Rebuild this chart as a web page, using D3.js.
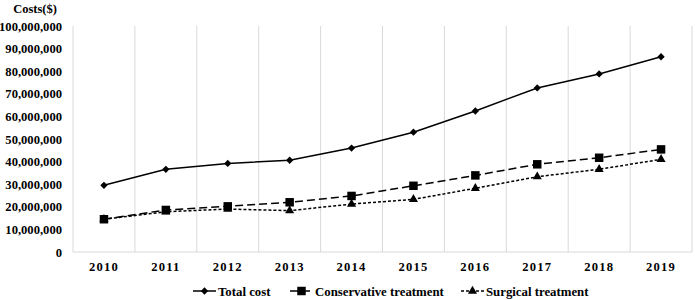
<!DOCTYPE html>
<html>
<head>
<meta charset="utf-8">
<script src="https://cdn.jsdelivr.net/npm/d3@7"></script>
<style>
  body { margin: 0; background: #fff; }
  text { font-family: "Liberation Serif", "Times New Roman", serif; font-weight: bold; fill: #000; }
</style>
</head>
<body>
<main></main>
<script>
const years = ["2010", "2011", "2012", "2013", "2014", "2015", "2016", "2017", "2018", "2019"];
const totalCost = [29.5e6, 36.6e6, 39.2e6, 40.6e6, 46.0e6, 53.0e6, 62.4e6, 72.6e6, 78.8e6, 86.4e6];
const conservative = [14.5e6, 18.6e6, 20.2e6, 22.0e6, 24.8e6, 29.3e6, 33.9e6, 38.8e6, 41.7e6, 45.4e6];
const surgical = [14.5e6, 17.8e6, 19.0e6, 18.3e6, 21.2e6, 23.3e6, 28.2e6, 33.3e6, 36.6e6, 41.0e6];
const yTicks = [0, 1e7, 2e7, 3e7, 4e7, 5e7, 6e7, 7e7, 8e7, 9e7, 1e8];

const svgWidth = 695,
  svgHeight = 300,
  plotLeft = 73,
  plotRight = 692,
  plotTop = 26,
  plotBottom = 252;

const xScale = d3.scaleBand().domain(years).range([plotLeft, plotRight]),
  yScale = d3.scaleLinear().domain([0, 1e8]).range([plotBottom, plotTop]);

const svg = d3.select("main").append("svg")
  .attr("width", svgWidth)
  .attr("height", svgHeight);

// vertical gridlines between categories
const gridX = years.map(d => xScale(d)).concat([plotRight]);
svg.append("g").selectAll("line").data(gridX).join("line")
  .attr("x1", d => d).attr("x2", d => d)
  .attr("y1", plotTop).attr("y2", plotBottom)
  .attr("stroke", "#d9d9d9").attr("stroke-width", 1);

svg.append("line")
  .attr("x1", plotLeft).attr("x2", plotRight)
  .attr("y1", plotBottom).attr("y2", plotBottom)
  .attr("stroke", "#d9d9d9");

// y axis labels
const yAxis = d3.axisLeft(yScale).tickValues(yTicks).tickSize(0).tickPadding(11)
  .tickFormat(d3.format(",d"));
svg.append("g").attr("transform", `translate(${plotLeft},0)`).call(yAxis)
  .call(g => g.select(".domain").remove())
  .selectAll("text").style("font-size", "12.6px")
  .style("font-family", "Liberation Serif, serif").style("font-weight", "bold");

// x axis labels
const xAxis = d3.axisBottom(xScale).tickSize(0).tickPadding(10);
svg.append("g").attr("transform", `translate(0,${plotBottom})`).call(xAxis)
  .call(g => g.select(".domain").remove())
  .selectAll("text").style("font-size", "12.6px").style("letter-spacing", "1.2px")
  .style("font-family", "Liberation Serif, serif").style("font-weight", "bold");

svg.append("text").attr("x", 35).attr("y", 13)
  .attr("text-anchor", "middle").style("font-size", "12.5px").text("Costs($)");

const series = [
  { name: "Total cost", values: totalCost, dash: null, symbol: d3.symbolDiamond2, size: 34 },
  { name: "Conservative treatment", values: conservative, dash: "8,4", symbol: d3.symbolSquare, size: 72 },
  { name: "Surgical treatment", values: surgical, dash: "3,2", symbol: d3.symbolTriangle, size: 36 }
];

const line = d3.line()
  .x((d, i) => xScale(years[i]) + xScale.bandwidth() / 2)
  .y(d => yScale(d));

series.forEach(s => {
  const g = svg.append("g");
  g.append("path").datum(s.values)
    .attr("d", line)
    .attr("fill", "none").attr("stroke", "#000").attr("stroke-width", 1.5)
    .attr("stroke-dasharray", s.dash);
  g.selectAll("path.m").data(s.values).join("path").attr("class", "m")
    .attr("d", d3.symbol().type(s.symbol).size(s.size))
    .attr("transform", (d, i) => `translate(${xScale(years[i]) + xScale.bandwidth() / 2},${yScale(d)})`)
    .attr("fill", "#000");
});

// legend
const legendX = [193, 290, 461];
const legend = svg.append("g");
series.forEach((s, i) => {
  const g = legend.append("g").attr("transform", `translate(${legendX[i]},291)`);
  g.append("line").attr("x1", 0).attr("x2", 23).attr("y1", 0).attr("y2", 0)
    .attr("stroke", "#000").attr("stroke-width", 1.5).attr("stroke-dasharray", s.dash);
  g.append("path").attr("d", d3.symbol().type(s.symbol).size(s.size))
    .attr("transform", "translate(11.5,0)").attr("fill", "#000");
  g.append("text").attr("x", 25).attr("y", 4.5)
    .style("font-size", "12.8px").text(s.name);
});
</script>
</body>
</html>
